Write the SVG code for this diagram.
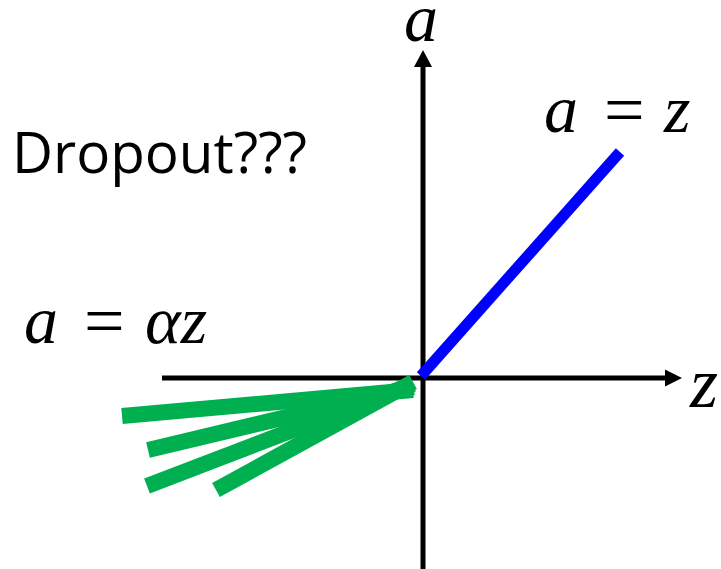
<svg xmlns="http://www.w3.org/2000/svg" width="721" height="569" viewBox="0 0 721 569">
<style>
.m{font-family:"Liberation Serif","DejaVu Serif",serif;font-style:italic;font-size:68px;fill:#000}
.eq{font-family:"Liberation Serif","DejaVu Serif",serif;font-size:72px;fill:#000}
.ax{stroke:#000;stroke-width:5;fill:none}
.g{stroke:#00B050;stroke-width:16;stroke-linecap:butt}
</style>
<g id="connectors">
<line class="ax" x1="162" y1="378" x2="665" y2="378"/>
<path d="M665,369.5 L682,378 L665,386.5 z" fill="#000"/>
<line class="ax" x1="423" y1="569" x2="423" y2="67"/>
<path d="M414,67 L423,50 L432,67 z" fill="#000"/>
<line x1="421" y1="376" x2="620" y2="152" stroke="#0000FF" stroke-width="11"/>
<line class="g" x1="122" y1="416" x2="413" y2="390"/>
<line class="g" x1="148" y1="450" x2="413" y2="387"/>
<line class="g" x1="147" y1="486" x2="413" y2="384"/>
<line class="g" x1="216" y1="490" x2="413" y2="382"/>
</g>
<g id="label-a-axis"><text class="m" x="404" y="41">a</text></g>
<g id="label-z-axis"><text class="m" x="690" y="407" style="font-size:72px">z</text></g>
<g id="label-a-eq-z">
<text class="m" x="544" y="132">a</text>
<text class="eq" x="604" y="134">=</text>
<text class="m" x="664" y="132">z</text>
</g>
<g id="label-a-eq-alpha-z">
<text class="m" x="24" y="343">a</text>
<text class="eq" x="84" y="345">=</text>
<text class="m" x="145" y="343">αz</text>
</g>
<g id="label-dropout"><text x="12" y="173" font-family="Open Sans, Liberation Sans, sans-serif" font-size="56" textLength="295" lengthAdjust="spacingAndGlyphs" fill="#000">Dropout???</text></g>
</svg>
